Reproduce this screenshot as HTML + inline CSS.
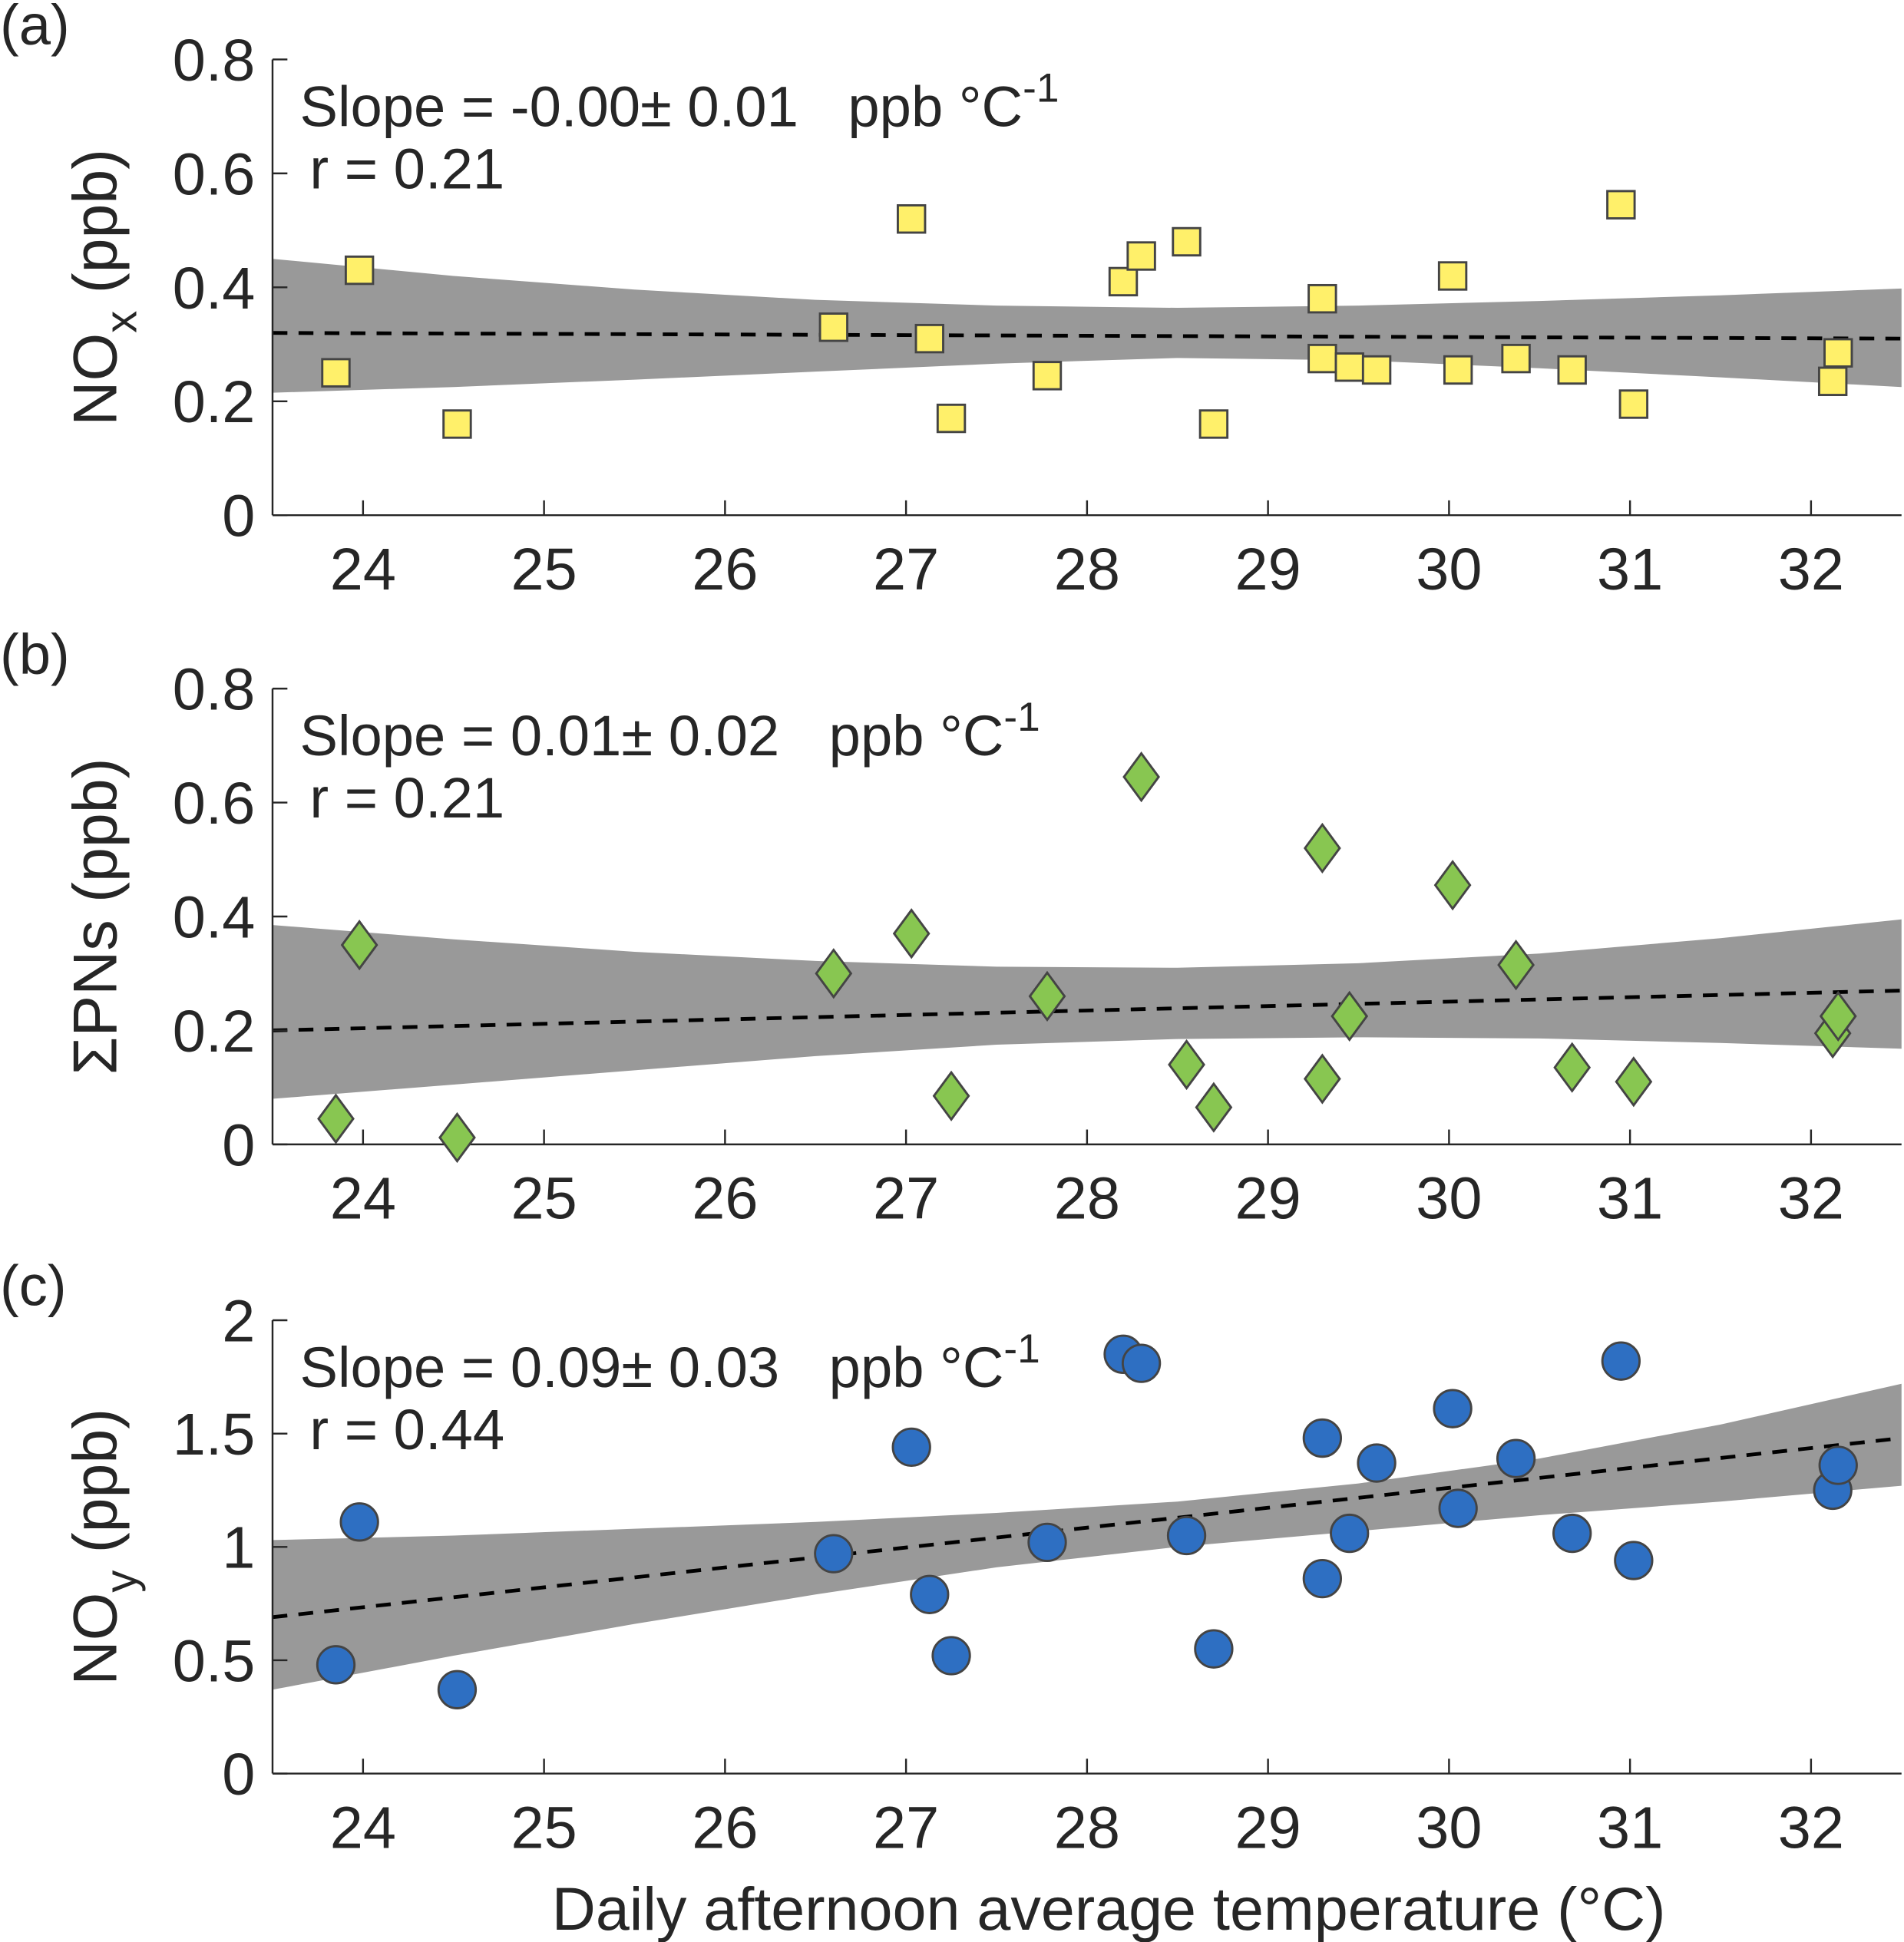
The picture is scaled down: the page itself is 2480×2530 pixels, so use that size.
<!DOCTYPE html>
<html><head><meta charset="utf-8"><style>html,body{margin:0;padding:0;background:#fff}svg{display:block}text{font-family:"Liberation Sans",sans-serif;fill:#262626}</style></head>
<body>
<svg id="chart" width="2480" height="2530" viewBox="0 0 1537 1568" xmlns="http://www.w3.org/2000/svg"></svg>
<script>
const xTicks=[24,25,26,27,28,29,30,31,32];
const tempA=[23.85,23.98,24.52,26.6,27.03,27.13,27.25,27.78,28.2,28.3,28.55,28.7,29.3,29.3,29.45,29.6,30.02,30.05,30.37,30.68,30.95,31.02,32.12,32.15];
const noxVals=[0.25,0.43,0.16,0.33,0.52,0.31,0.17,0.245,0.41,0.455,0.48,0.16,0.38,0.275,0.26,0.255,0.42,0.255,0.275,0.255,0.545,0.195,0.235,0.285];
const tempB=[23.85,23.98,24.52,26.6,27.03,27.25,27.78,28.3,28.55,28.7,29.3,29.3,29.45,30.02,30.37,30.68,31.02,32.12,32.15];
const pnVals=[0.045,0.35,0.012,0.3,0.37,0.085,0.26,0.645,0.14,0.065,0.52,0.115,0.225,0.455,0.315,0.135,0.11,0.195,0.225];
const tempC=[23.85,23.98,24.52,26.6,27.03,27.13,27.25,27.78,28.2,28.3,28.55,28.7,29.3,29.3,29.45,29.6,30.02,30.05,30.37,30.68,30.95,31.02,32.12,32.15];
const noyVals=[0.48,1.11,0.37,0.97,1.44,0.79,0.52,1.02,1.85,1.81,1.05,0.55,1.48,0.86,1.06,1.37,1.61,1.17,1.39,1.06,1.82,0.94,1.25,1.36];
const bandX=[23.5,24.5,25.5,26.5,27.5,28.5,29.5,30.5,31.5,32.5];
const bandALo=[0.215,0.225,0.238,0.252,0.266,0.276,0.272,0.258,0.242,0.225];
const bandAHi=[0.45,0.42,0.396,0.378,0.368,0.364,0.368,0.376,0.386,0.398];
const fitA=[0.32,0.31];
const bandBLo=[0.08,0.105,0.13,0.155,0.175,0.185,0.188,0.186,0.178,0.168];
const bandBHi=[0.385,0.36,0.338,0.322,0.312,0.31,0.318,0.335,0.362,0.395];
const fitB=[0.2,0.27];
const bandCLo=[0.37,0.52,0.66,0.79,0.91,1.0,1.07,1.14,1.2,1.27];
const bandCHi=[1.03,1.05,1.08,1.11,1.15,1.2,1.28,1.39,1.54,1.72];
const fitC=[0.69,1.48];
const yTicksAB=[0,0.2,0.4,0.6,0.8];
const yTicksC=[0,0.5,1,1.5,2];

const NS="http://www.w3.org/2000/svg";
const svg=document.getElementById('chart');
function mk(tag,attrs,parent){const e=document.createElementNS(NS,tag);for(const k in attrs)e.setAttribute(k,attrs[k]);(parent||svg).appendChild(e);return e;}
const L=220,R=1535,X0=23.5,X1=32.5;
const sx=v=>L+(v-X0)/(X1-X0)*(R-L);

function panel(cfg){
  const g=mk('g',{});
  
  
  const sy=v=>cfg.bot-(v/cfg.ymax)*(cfg.bot-cfg.top);
  let d='';
  bandX.forEach((x,i)=>{d+=(i?'L':'M')+sx(x)+','+sy(cfg.hi[i]);});
  for(let i=bandX.length-1;i>=0;i--)d+='L'+sx(bandX[i])+','+sy(cfg.lo[i]);
  const band=mk('path',{d:d+'Z',fill:'#999999'},g);
  
  
  const fit=mk('line',{x1:sx(X0),y1:sy(cfg.fit[0]),x2:sx(X1),y2:sy(cfg.fit[1]),stroke:'#000','stroke-width':3,'stroke-dasharray':'12,9'},g);
  
  
  mk('line',{x1:L,y1:cfg.top,x2:L,y2:cfg.bot,stroke:'#262626','stroke-width':1.5},g);
  mk('line',{x1:L,y1:cfg.bot,x2:R,y2:cfg.bot,stroke:'#262626','stroke-width':1.5},g);
  xTicks.forEach(t=>{
    mk('line',{x1:sx(t),y1:cfg.bot,x2:sx(t),y2:cfg.bot-12,stroke:'#262626','stroke-width':1.5},g);
    const tx=mk('text',{x:sx(t),y:cfg.bot+60,'font-size':48,'text-anchor':'middle'},g);tx.textContent=t;
    
    
  });
  cfg.yt.forEach(t=>{
    mk('line',{x1:L,y1:sy(t),x2:L+12,y2:sy(t),stroke:'#262626','stroke-width':1.5},g);
    const tx=mk('text',{x:L-14,y:sy(t)+17,'font-size':48,'text-anchor':'end'},g);tx.textContent=t;
    
    
  });
  cfg.xs.forEach((x,i)=>{
    const px=sx(x),py=sy(cfg.ys[i]);let m;
    if(cfg.marker==='sq')m=mk('rect',{x:px-11,y:py-11,width:22,height:22,fill:'#fff06a',stroke:'#444','stroke-width':1.8},g);
    else if(cfg.marker==='dia')m=mk('path',{d:`M${px},${py-19}L${px+14},${py}L${px},${py+19}L${px-14},${py}Z`,fill:'#88c651',stroke:'#444','stroke-width':1.8},g);
    else m=mk('circle',{cx:px,cy:py,r:15,fill:'#2e6fc2',stroke:'#444','stroke-width':1.8},g);
    
    
  });
  const lab=mk('text',{x:0,y:cfg.top-12,'font-size':46},g);lab.textContent=cfg.letter;
  
  
  const s=mk('text',{x:242,y:cfg.top+54,'font-size':46},g);
  s.innerHTML=cfg.slope+'<tspan dx="40">ppb °C</tspan><tspan dy="-20" font-size="33">-1</tspan>';
  
  
  const r=mk('text',{x:250,y:cfg.top+104,'font-size':46},g);r.textContent=cfg.r;
  
  
  const yl=mk('text',{transform:`translate(94,${(cfg.top+cfg.bot)/2}) rotate(-90)`,'font-size':50,'text-anchor':'middle'},g);
  yl.innerHTML=cfg.ylab;
  
  
}
panel({name:'panel-a-nox',letter:'(a)',top:48,bot:416,ymax:0.8,yt:yTicksAB,xs:tempA,ys:noxVals,marker:'sq',lo:bandALo,hi:bandAHi,fit:fitA,slope:'Slope = -0.00±  0.01',r:'r = 0.21',ylab:'NO<tspan dy="16" font-size="36">x</tspan><tspan dy="-16"> (ppb)</tspan>'});
panel({name:'panel-b-pns',letter:'(b)',top:556,bot:924,ymax:0.8,yt:yTicksAB,xs:tempB,ys:pnVals,marker:'dia',lo:bandBLo,hi:bandBHi,fit:fitB,slope:'Slope = 0.01±  0.02',r:'r = 0.21',ylab:'ΣPNs  (ppb)'});
panel({name:'panel-c-noy',letter:'(c)',top:1066,bot:1432,ymax:2,yt:yTicksC,xs:tempC,ys:noyVals,marker:'circ',lo:bandCLo,hi:bandCHi,fit:fitC,slope:'Slope = 0.09±  0.03',r:'r = 0.44',ylab:'NO<tspan dy="16" font-size="36">y</tspan><tspan dy="-16"> (ppb)</tspan>'});
const xl=mk('text',{x:895,y:1558,'font-size':49,'text-anchor':'middle'});
xl.textContent='Daily afternoon average temperature (°C)';


</script>
</body></html>
